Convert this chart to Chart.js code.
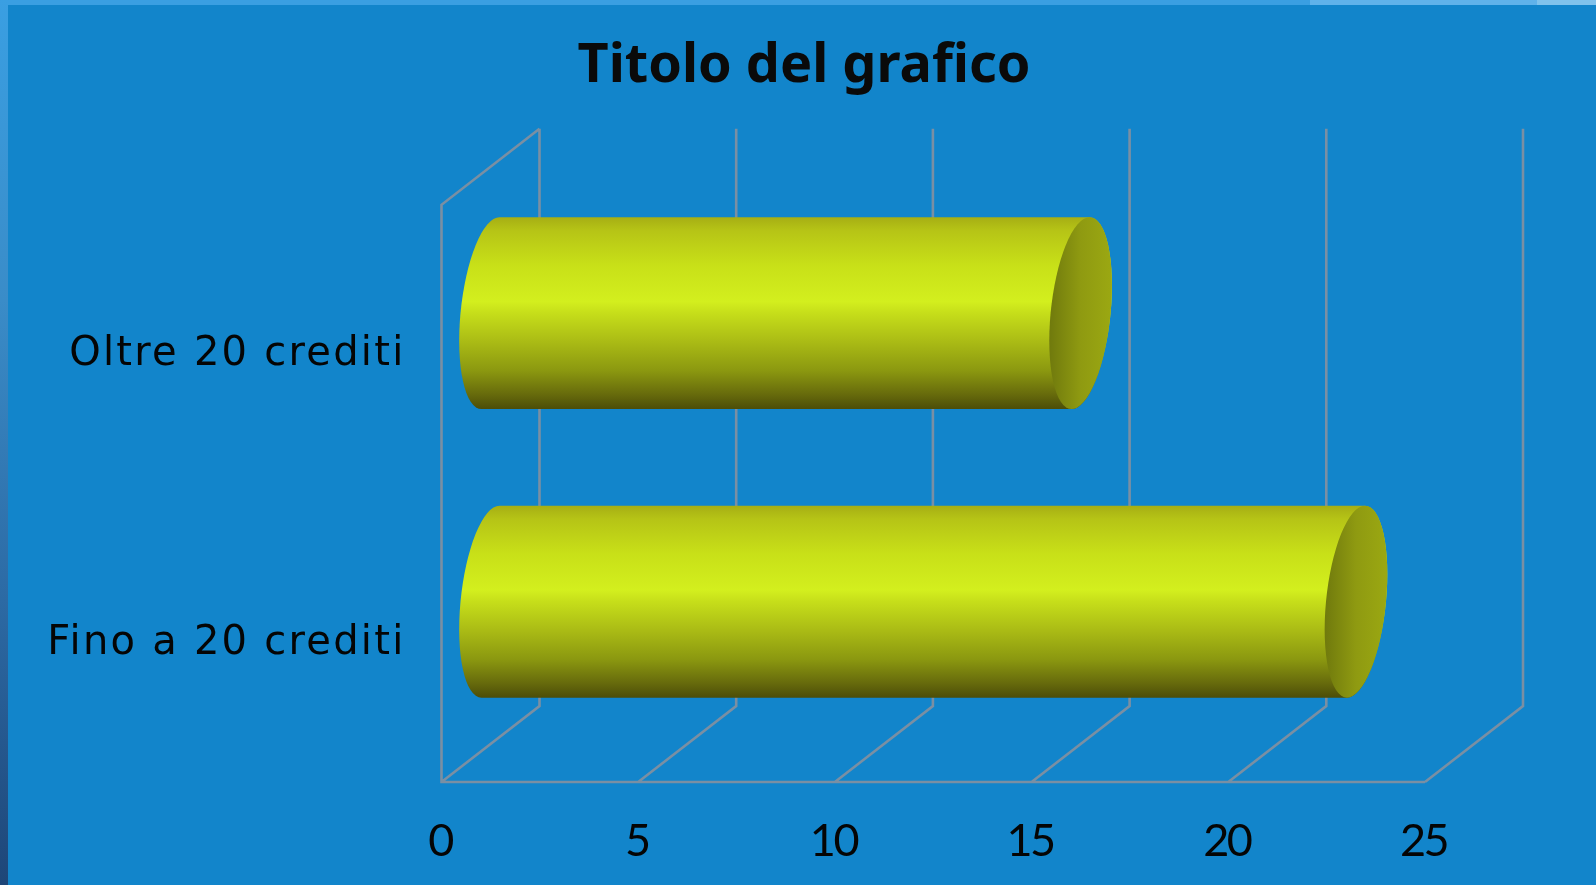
<!DOCTYPE html>
<html lang="en">
<head>
  <meta charset="UTF-8" />
  <title>Titolo del grafico</title>
  <script src="https://cdn.jsdelivr.net/npm/chart.js"></script>
  <style>
    html, body {
      margin: 0;
      padding: 0;
      width: 1596px;
      height: 885px;
      overflow: hidden;
      background-color: #1285cb;
    }
    #topBand {
      position: absolute;
      left: 0;
      top: 0;
      width: 1596px;
      height: 5px;
      background: linear-gradient(to right, #3a9fe2 0, #3a9fe2 1310px, #60b2ea 1310px, #60b2ea 1537px, #80c2ec 1537px);
    }
    #leftBand {
      position: absolute;
      left: 0;
      top: 0;
      width: 8px;
      height: 885px;
      background: linear-gradient(to bottom, #3a9fe2 0, #3a8cc8 300px, #2c6aa4 600px, #1e4678 885px);
    }
    canvas {
      position: absolute;
      left: 0;
      top: 0;
    }
  </style>
</head>
<body>
  <div id="topBand"></div>
  <div id="leftBand"></div>
  <canvas id="chart" width="1596" height="885"></canvas>

  <script>
    const titleText = "Titolo del grafico";
    const categories = ["Oltre 20 crediti", "Fino a 20 crediti"];
    const credits = [15, 22];
    const tickStep = 5;
    const axisMax = 25;

    // depth of the fake 3D box, in px
    const depthX = 98;
    const depthY = -76;
    const wallColor = "#7a8fa3";

    // walls and floor lines, all hung off the x scale
    const wallsPlugin = {
      id: "walls",
      beforeDatasetsDraw(chart) {
        const { ctx, scales: { x, y } } = chart;
        const top = y.top, bottom = y.bottom;
        ctx.save();
        ctx.strokeStyle = wallColor;
        ctx.lineWidth = 2.6;
        ctx.beginPath();
        x.ticks.forEach(t => {
          const px = x.getPixelForValue(t.value);
          ctx.moveTo(px, bottom);
          ctx.lineTo(px + depthX, bottom + depthY);
          ctx.lineTo(px + depthX, top + depthY);
        });
        ctx.moveTo(x.right, bottom);
        ctx.lineTo(x.left, bottom);
        ctx.lineTo(x.left, top);
        ctx.lineTo(x.left + depthX, top + depthY);
        ctx.stroke();
        ctx.restore();
      }
    };

    function capPath(ctx, cx, cy, a, b, lean, from, to) {
      ctx.save();
      ctx.translate(cx, cy);
      ctx.transform(1, 0, -lean / b, 1, 0, 0);
      ctx.ellipse(0, 0, a, b, 0, from, to, false);
      ctx.restore();
    }

    function drawCylinder(ctx, x0, x1, cy, height) {
      const b = height / 2, a = 30, lean = 9;
      const side = ctx.createLinearGradient(0, cy - b, 0, cy + b);
      side.addColorStop(0, "#a6ae14");
      side.addColorStop(0.07, "#b6c416");
      side.addColorStop(0.25, "#c8e018");
      side.addColorStop(0.44, "#d3ef1e");
      side.addColorStop(0.5, "#c6de1a");
      side.addColorStop(0.65, "#aabb15");
      side.addColorStop(0.8, "#8b9810");
      side.addColorStop(0.92, "#686c0c");
      side.addColorStop(1, "#4c4d08");

      ctx.beginPath();
      capPath(ctx, x0, cy, a, b, lean, Math.PI / 2, Math.PI * 1.5);
      capPath(ctx, x1, cy, a, b, lean, -Math.PI / 2, Math.PI / 2);
      ctx.closePath();
      ctx.fillStyle = side;
      ctx.fill();

      const end = ctx.createLinearGradient(x1 - 31, 0, x1 + 31, 0);
      end.addColorStop(0, "#707a0d");
      end.addColorStop(0.5, "#8f9a11");
      end.addColorStop(1, "#9ba812");
      ctx.beginPath();
      capPath(ctx, x1, cy, a, b, lean, 0, Math.PI * 2);
      ctx.fillStyle = end;
      ctx.fill();
    }

    const cylinderPlugin = {
      id: "cylinders",
      afterDatasetsDraw(chart) {
        const ctx = chart.ctx;
        chart.getDatasetMeta(0).data.forEach(bar => {
          // the bars sit half way down the box
          drawCylinder(ctx, bar.base + depthX / 2, bar.x + depthX / 2, bar.y + depthY / 2 + 2, bar.height);
        });
      }
    };

    // tick text in the picture is loosely spaced on y and tight on x
    function respaceLabels(chart, scale, spacing, shiftX, shiftY) {
      const drawLabels = scale.drawLabels;
      scale.drawLabels = function (area) {
        chart.ctx.save();
        chart.ctx.letterSpacing = spacing;
        chart.ctx.translate(shiftX, shiftY);
        drawLabels.call(this, area);
        chart.ctx.restore();
      };
    }

    const spacedLabelsPlugin = {
      id: "spacedLabels",
      beforeDraw(chart) {
        if (chart._spaced) return;
        chart._spaced = true;
        respaceLabels(chart, chart.scales.y, "2.25px", 0, 6);
        respaceLabels(chart, chart.scales.x, "-2.5px", -1.5, 0);
      }
    };

    new Chart(document.getElementById("chart"), {
      type: "bar",
      data: {
        labels: categories,
        datasets: [{
          label: "Crediti",
          data: credits,
          backgroundColor: "transparent",
          barPercentage: 0.665,
          categoryPercentage: 1
        }]
      },
      options: {
        indexAxis: "y",
        responsive: false,
        animation: false,
        layout: { padding: { left: 12, right: 0, top: 0, bottom: 0 } },
        plugins: {
          legend: { display: false },
          tooltip: { enabled: false },
          title: {
            display: true,
            text: titleText,
            color: "#0a0a0a",
            font: { family: "'Noto Sans'", size: 54, weight: "bold" },
            padding: { top: 34, bottom: 106 }
          }
        },
        scales: {
          x: {
            min: 0,
            max: axisMax,
            ticks: {
              stepSize: tickStep,
              color: "#050505",
              padding: 32,
              maxRotation: 0,
              font: { family: "Lato", size: 45 }
            },
            grid: { display: false, drawTicks: false },
            border: { display: false },
            afterFit(scale) { scale.height = 103; }
          },
          y: {
            ticks: {
              color: "#050505",
              padding: 36,
              font: { family: "'DejaVu Sans'", size: 40 }
            },
            grid: { display: false, drawTicks: false },
            border: { display: false },
            afterFit(scale) { scale.width = 429.5; }
          },
          // empty axis that keeps the plot clear of the right side,
          // so the title still centres on the whole page
          spacer: {
            axis: "y",
            position: "right",
            ticks: { display: false },
            grid: { display: false },
            border: { display: false },
            afterFit(scale) { scale.width = 171; }
          }
        }
      },
      plugins: [wallsPlugin, cylinderPlugin, spacedLabelsPlugin]
    });
  </script>
</body>
</html>
